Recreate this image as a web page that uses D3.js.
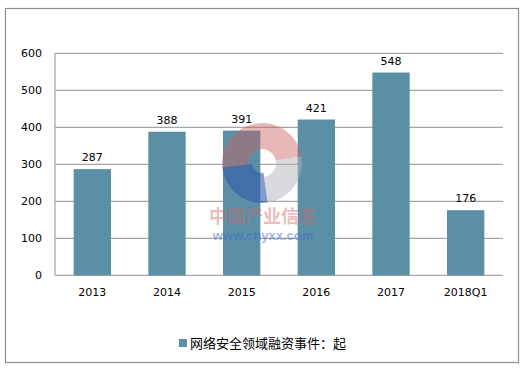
<!DOCTYPE html>
<html><head><meta charset="utf-8">
<script src="https://cdn.jsdelivr.net/npm/d3@7"></script>
<style>body{margin:0;background:#fff}svg{display:block}</style>
</head><body>
<script>
const categories = ["2013","2014","2015","2016","2017","2018Q1"];
const values = [287,388,391,421,548,176];
const yTicks = [0,100,200,300,400,500,600];
const seriesName = "网络安全领域融资事件：起";

const W=526,H=368;
const svg=d3.select("body").append("svg").attr("width",W).attr("height",H);
svg.append("rect").attr("x",5.5).attr("y",8.5).attr("width",513).attr("height",354)
  .attr("fill","#fff").attr("stroke","#8c8c8c").attr("stroke-width",1.2);

const L=55,R=503,T=53.3,B=275.3;
const x=d3.scaleBand().domain(categories).range([L,R]).paddingInner(0.5).paddingOuter(0.25);
const y=d3.scaleLinear().domain([0,600]).range([B,T]);
const num="'DejaVu Sans', Verdana, sans-serif";

const g=svg.append("g");
g.selectAll("line.grid").data(yTicks).join("line")
  .attr("x1",L).attr("x2",R).attr("y1",d=>y(d)).attr("y2",d=>y(d))
  .attr("stroke","#a6a6a6").attr("stroke-width",1.3);
svg.append("line").attr("x1",L).attr("x2",L).attr("y1",T).attr("y2",B).attr("stroke","#a6a6a6").attr("stroke-width",1.3);

const yAxis=d3.axisLeft(y).tickValues(yTicks).tickSize(0).tickPadding(13);
const ya=svg.append("g").attr("transform",`translate(${L},0)`).call(yAxis);
ya.select(".domain").remove();
ya.selectAll("text").attr("font-family",num).attr("font-size",11).attr("fill","#000");

g.selectAll("rect.bar").data(values).join("rect")
  .attr("x",(d,i)=>x(categories[i])).attr("width",x.bandwidth())
  .attr("y",d=>y(d)).attr("height",d=>B-y(d)).attr("fill","#5b8fa6");

g.selectAll("text.val").data(values).join("text")
  .attr("x",(d,i)=>x(categories[i])+x.bandwidth()/2).attr("y",d=>y(d)-8)
  .attr("text-anchor","middle").attr("font-family",num).attr("font-size",11).attr("fill","#000")
  .text(d=>d);

const xAxis=d3.axisBottom(x).tickSize(0).tickPadding(13);
const xa=svg.append("g").attr("transform",`translate(0,${B})`).call(xAxis);
xa.select(".domain").remove();
xa.selectAll("text").attr("font-family",num).attr("font-size",11).attr("fill","#000");

// watermark
const wm=svg.append("g").attr("transform","translate(262,163)");
const arc=d3.arc();
wm.append("path").attr("d",arc({innerRadius:14,outerRadius:40,startAngle:-1.7,endAngle:1.4})).attr("fill","rgba(205,95,95,0.45)");
wm.append("path").attr("d",arc({innerRadius:14,outerRadius:40,startAngle:1.4,endAngle:3.0})).attr("fill","rgba(180,180,190,0.5)");
wm.append("path").attr("d",arc({innerRadius:10,outerRadius:40,startAngle:3.0,endAngle:4.6})).attr("fill","rgba(50,90,170,0.6)");
svg.append("text").attr("x",263).attr("y",223).attr("text-anchor","middle")
  .attr("font-family","'Noto Sans CJK SC', sans-serif").attr("font-weight","bold").attr("font-size",18)
  .attr("fill","rgba(215,100,100,0.45)").text("中国产业信息");
svg.append("text").attr("x",263).attr("y",240).attr("text-anchor","middle")
  .attr("font-family","Arial, 'Liberation Sans', sans-serif").attr("font-weight","bold").attr("font-size",13)
  .attr("fill","rgba(60,110,200,0.5)").text("www.chyxx.com");

// legend
svg.append("rect").attr("x",179).attr("y",339).attr("width",8).attr("height",8).attr("fill","#5b8fa6");
svg.append("text").attr("x",190).attr("y",348).attr("font-family","'Noto Sans CJK SC', sans-serif")
  .attr("font-size",13).attr("fill","#000").text(seriesName);
</script>
</body></html>
